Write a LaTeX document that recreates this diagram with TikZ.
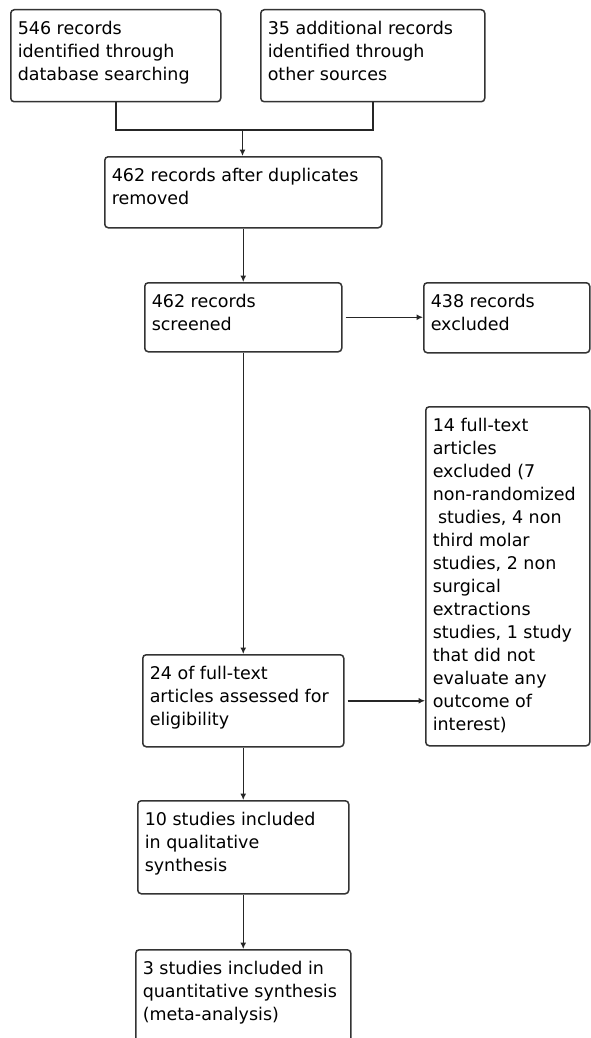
\documentclass[tikz,border=0pt]{standalone}
\usepackage{fontspec}
\setmainfont{DejaVu Sans}
\usetikzlibrary{arrows.meta}
\newcommand{\mkbox}[6]{%
  \pgfmathsetmacro\bw{#4-#2}%
  \pgfmathsetmacro\bh{#5-#3}%
  \node[box, minimum width=\bw pt, minimum height=\bh pt] (#1) at (#2,#3)
    {\parbox[c][\bh pt][t]{\dimexpr\bw pt-14pt\relax}{\vspace*{11pt}\raggedright #6}};%
}
\begin{document}
\begin{tikzpicture}[x=1pt,y=-1pt,
  box/.style={draw=black!80, line width=1.5pt, rounded corners=3.5pt, anchor=north west,
    inner xsep=7pt, inner ysep=0pt, fill=white, text=black,
    font=\fontsize{17.5}{23}\selectfont},
  conn/.style={draw=black!85, line width=1.5pt},
  arr/.style={conn, -{Latex[length=6.5pt,width=6pt]}}]
\useasboundingbox (0,0) rectangle (591,1038);
\clip (0,0) rectangle (591,1038);
\fill[white] (0,0) rectangle (591,1038);
\mkbox{b1}{10}{9}{220}{101}{546 records\\identified through\\database searching}
\mkbox{b2}{260}{9}{484}{101}{35 additional records\\identified through\\other sources}
\mkbox{b3}{104}{156}{381}{227}{462 records after duplicates\\removed}
\mkbox{b4}{144}{282}{341}{351}{462 records\\screened}
\mkbox{b5}{423}{282}{589}{352}{438 records\\excluded}
\mkbox{b6}{142}{654}{343}{746}{24 of full-text\\articles assessed for\\eligibility}
\mkbox{b7}{425}{406}{589}{745}{14 full-text\\articles\\excluded (7\\non-randomized\\\hspace*{0.3em}studies, 4 non\\third molar\\studies, 2 non\\surgical\\extractions\\studies, 1 study\\that did not\\evaluate any\\outcome of\\interest)}
\mkbox{b8}{137}{800}{348}{893}{10 studies included\\in qualitative\\synthesis}
\mkbox{b9}{135}{949}{350}{1060}{3 studies included in\\quantitative synthesis\\(meta-analysis)}
\coordinate (j) at (242.5,130);
\draw[conn] (b1.south) |- (j) -| (b2.south);
\draw[arr] (j) -- (j |- b3.north);
\draw[arr] (b4.north |- b3.south) -- (b4.north);
\draw[arr] ([xshift=3pt]b4.east) -- (b4.east -| b5.west);
\draw[arr] (b4.south) -- (b6.north);
\draw[arr] ([xshift=3pt]b6.east) -- (b6.east -| b7.west);
\draw[arr] (b6.south) -- (b8.north);
\draw[arr] (b8.south) -- (b9.north);
\end{tikzpicture}
\end{document}
